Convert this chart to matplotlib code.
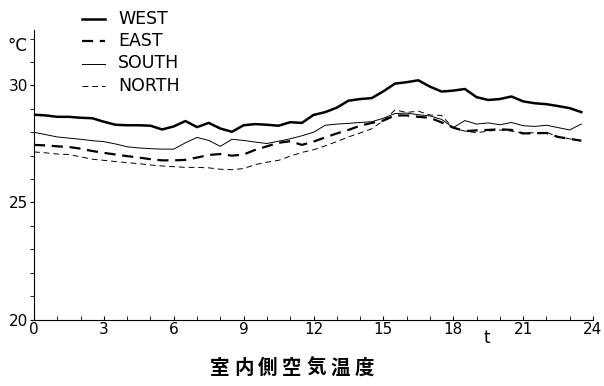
import matplotlib
matplotlib.use("Agg")
import matplotlib.pyplot as plt
from matplotlib.lines import Line2D
from matplotlib.ticker import MultipleLocator

plt.rcParams['font.family'] = ['DejaVu Sans', 'Noto Sans CJK JP']

# hours, half-hour steps
hours = [i * 0.5 for i in range(48)]

west = [28.75, 28.72, 28.66, 28.66, 28.62, 28.60, 28.45, 28.32, 28.30, 28.30,
        28.28, 28.12, 28.25, 28.48, 28.22, 28.40, 28.16, 28.02, 28.30, 28.35,
        28.32, 28.28, 28.43, 28.40, 28.74, 28.86, 29.05, 29.35, 29.42, 29.46,
        29.75, 30.08, 30.14, 30.22, 29.95, 29.74, 29.78, 29.85, 29.50, 29.38,
        29.42, 29.53, 29.32, 29.24, 29.20, 29.12, 29.03, 28.86]
east = [27.46, 27.44, 27.40, 27.37, 27.30, 27.20, 27.12, 27.05, 26.98, 26.92,
        26.85, 26.80, 26.80, 26.82, 26.92, 27.03, 27.07, 27.00, 27.05, 27.25,
        27.40, 27.55, 27.62, 27.46, 27.60, 27.78, 27.95, 28.10, 28.28, 28.40,
        28.50, 28.72, 28.72, 28.66, 28.62, 28.42, 28.20, 28.05, 28.08, 28.10,
        28.13, 28.10, 27.95, 27.96, 27.97, 27.80, 27.72, 27.64]
south = [28.00, 27.90, 27.80, 27.75, 27.70, 27.64, 27.60, 27.50, 27.38, 27.33,
         27.30, 27.28, 27.28, 27.55, 27.78, 27.65, 27.40, 27.70, 27.65, 27.58,
         27.52, 27.62, 27.72, 27.85, 28.00, 28.30, 28.35, 28.38, 28.42, 28.45,
         28.60, 28.80, 28.82, 28.75, 28.70, 28.55, 28.20, 28.50, 28.35, 28.40,
         28.32, 28.42, 28.28, 28.25, 28.30, 28.20, 28.10, 28.35]
north = [27.16, 27.12, 27.07, 27.05, 26.95, 26.85, 26.80, 26.75, 26.70, 26.66,
         26.60, 26.56, 26.53, 26.50, 26.50, 26.48, 26.42, 26.40, 26.45, 26.62,
         26.72, 26.80, 26.98, 27.14, 27.25, 27.42, 27.60, 27.80, 27.97, 28.15,
         28.50, 28.95, 28.85, 28.90, 28.74, 28.72, 28.18, 28.05, 27.98, 28.05,
         28.10, 28.05, 27.97, 27.98, 28.00, 27.80, 27.72, 27.64]

labels = ["WEST", "EAST", "SOUTH", "NORTH"]
title = "室内側空気温度"

W, H = 604, 386
fig = plt.figure(figsize=(W / 100, H / 100), dpi=100)
ax = fig.add_axes([34 / W, 1 - 319.5 / H, 559 / W, 289.5 / H])

styles = [dict(lw=1.8, ls="-"), dict(lw=1.6, ls=(0, (5, 3))),
          dict(lw=0.7, ls="-"), dict(lw=0.7, ls=(0, (6, 4)))]
for series, lab, st in zip([west, east, south, north], labels, styles):
    ax.plot(hours, series, color="black", label=lab, **st)

ax.set_xlim(0, 24)
ax.set_ylim(20, 32.37)
ax.spines["top"].set_visible(False)
ax.spines["right"].set_visible(False)
ax.xaxis.set_major_locator(MultipleLocator(3))
ax.xaxis.set_minor_locator(MultipleLocator(1))
ax.yaxis.set_major_locator(MultipleLocator(5))
ax.yaxis.set_minor_locator(MultipleLocator(1))
ax.tick_params(axis="x", which="both", direction="in", length=3, labelsize=11, pad=2)
ax.tick_params(axis="y", which="both", direction="out", length=3, labelsize=11, pad=1)

# legend drawn by hand, rows at fixed pixel heights
for i, (lab, st) in enumerate(zip(labels, styles)):
    yy = 1 - (18.5 + i * 22.5) / H
    fig.add_artist(Line2D([82 / W, 105 / W], [yy, yy], color="black",
                          transform=fig.transFigure, **st))
    fig.text(118 / W, yy, lab, fontsize=12.5, va="center")

fig.text(7 / W, 1 - 46 / H, "°C", fontsize=12, va="center")
fig.text(484 / W, 1 - 338 / H, "t", fontsize=12, va="center")
for i, ch in enumerate(title):
    fig.text((220 + i * 24) / W, 1 - 368 / H, ch, ha="center", va="center",
             fontsize=14, fontweight="bold",
             family=["Noto Sans CJK JP", "DejaVu Sans"])

fig.savefig("out.png", dpi=100)
